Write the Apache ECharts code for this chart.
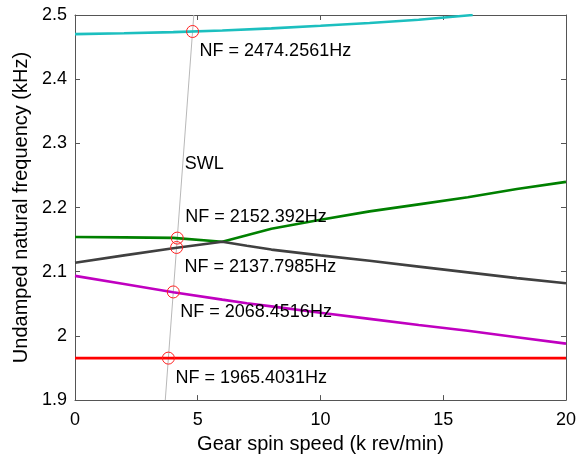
<!DOCTYPE html>
<html>
<head>
<meta charset="utf-8">
<script src="https://cdn.jsdelivr.net/npm/echarts@6/dist/echarts.min.js"></script>
<style>
  html, body { margin: 0; padding: 0; background: #fff; }
  #chartmain { width: 579px; height: 459px; }
</style>
</head>
<body>
<div id="chartmain"></div>
<script>
// speed axis shared by most modes (k rev/min)
var speed = [0, 2, 4, 6, 7, 8, 10, 12, 14, 16, 18, 20];
// natural frequencies (kHz)
var modeRed     = [1.9654, 1.9654, 1.9654, 1.9654, 1.9654, 1.9654, 1.9654, 1.9654, 1.9654, 1.9654, 1.9654, 1.9654];
var modeMagenta = [2.0935, 2.081, 2.068, 2.0565, 2.051, 2.046, 2.036, 2.0265, 2.017, 2.008, 1.998, 1.988];
var modeGray    = [2.114, 2.1255, 2.1365, 2.1468, 2.1405, 2.1345, 2.1255, 2.117, 2.108, 2.099, 2.090, 2.082];
var modeGreen   = [2.154, 2.1535, 2.1527, 2.1468, 2.157, 2.167, 2.181, 2.194, 2.205, 2.216, 2.229, 2.240];
var cyanSpeed   = [0, 2, 4, 6, 8, 10, 12, 14, 16.2];
var modeCyan    = [2.4702, 2.4716, 2.4733, 2.4758, 2.4792, 2.4832, 2.4875, 2.4925, 2.5];
// speed wave line
var swlSpeed = [3.677, 4.39, 4.839];
var swlFreq  = [1.9, 2.268, 2.5];
// intersections
var nfSpeed = [4.789, 4.166, 4.138, 4.0035, 3.804];
var nfFreq  = [2.4743, 2.1524, 2.1378, 2.0685, 1.9654];
var nfText  = ['NF = 2474.2561Hz', 'NF = 2152.392Hz', 'NF = 2137.7985Hz', 'NF = 2068.4516Hz', 'NF = 1965.4031Hz'];

// label offsets (px) from each circle
var nfOffset = [[7, 20], [8, -21], [8, 20], [7, 20], [7, 20]];

function pairs(xs, ys) {
  return xs.map(function (x, i) { return [x, ys[i]]; });
}

var font = 'Arial, "Liberation Sans", sans-serif';
var frame = '#555';
var ink = '#000';

function lineSeries(xs, ys, color) {
  return {
    type: 'line',
    data: pairs(xs, ys),
    showSymbol: false,
    symbol: 'none',
    lineStyle: { color: color, width: 2.6 },
    clip: true,
    silent: true,
    z: 3
  };
}

var nfData = nfSpeed.map(function (x, i) {
  return {
    value: [x, nfFreq[i]],
    label: { offset: nfOffset[i], formatter: nfText[i] }
  };
});

window.onload = function () {
  var option = {
    backgroundColor: '#fff',
    animation: false,
    grid: { left: 75, right: 12, top: 15, bottom: 55, containLabel: false },
    xAxis: [{
      type: 'value', min: 0, max: 20, interval: 5,
      name: 'Gear spin speed (k rev/min)',
      nameLocation: 'middle', nameGap: 32,
      nameTextStyle: { fontFamily: font, fontSize: 20, color: ink },
      axisLine: { lineStyle: { color: frame, width: 1 } },
      axisTick: { inside: true, length: 5, lineStyle: { color: frame } },
      axisLabel: { fontFamily: font, fontSize: 18, color: ink, margin: 11 },
      splitLine: { show: false }
    }, {
      type: 'value', min: 0, max: 20, interval: 5, position: 'top',
      axisLine: { show: true, onZero: false, lineStyle: { color: frame, width: 1 } },
      axisTick: { inside: true, length: 5, lineStyle: { color: frame } },
      axisLabel: { show: false },
      splitLine: { show: false }
    }],
    yAxis: [{
      type: 'value', min: 1.9, max: 2.5, interval: 0.1,
      name: 'Undamped natural frequency (kHz)',
      nameLocation: 'middle', nameGap: 43,
      nameTextStyle: { fontFamily: font, fontSize: 20, color: ink },
      axisLine: { show: true, lineStyle: { color: frame, width: 1 } },
      axisTick: { show: true, inside: true, length: 5, lineStyle: { color: frame } },
      axisLabel: {
        fontFamily: font, fontSize: 18, color: ink, margin: 8,
        formatter: function (v) { return (Math.round(v * 10) / 10).toString(); }
      },
      splitLine: { show: false }
    }, {
      type: 'value', min: 1.9, max: 2.5, interval: 0.1, position: 'right',
      axisLine: { show: true, onZero: false, lineStyle: { color: frame, width: 1 } },
      axisTick: { show: true, inside: true, length: 5, lineStyle: { color: frame } },
      axisLabel: { show: false },
      splitLine: { show: false }
    }],
    series: [
      {
        type: 'line',
        data: pairs(swlSpeed, swlFreq),
        symbol: 'none',
        lineStyle: { color: '#b8b8b8', width: 1 },
        silent: true,
        z: 2,
        markPoint: {
          symbol: 'circle', symbolSize: 1,
          itemStyle: { color: 'rgba(0,0,0,0)' },
          data: [{ coord: [swlSpeed[1], swlFreq[1]] }],
          label: {
            show: true, formatter: 'SWL', position: 'inside',
            align: 'left', verticalAlign: 'middle', offset: [2, 0],
            fontFamily: font, fontSize: 18, color: ink, textBorderWidth: 0
          }
        }
      },
      lineSeries(cyanSpeed, modeCyan, '#1cbfbf'),
      lineSeries(speed, modeGreen, '#008000'),
      lineSeries(speed, modeGray, '#404040'),
      lineSeries(speed, modeMagenta, '#c000c0'),
      lineSeries(speed, modeRed, '#ff0000'),
      {
        type: 'scatter',
        data: nfData,
        symbol: 'circle',
        symbolSize: 12,
        itemStyle: { color: 'rgba(0,0,0,0)', borderColor: '#ff2020', borderWidth: 1, opacity: 1 },
        label: {
          show: true, position: 'inside', align: 'left', verticalAlign: 'middle',
          fontFamily: font, fontSize: 18, color: ink, textBorderWidth: 0, opacity: 1
        },
        silent: true,
        z: 5
      }
    ]
  };

  var myChart = echarts.init(document.getElementById('chartmain'));
  myChart.setOption(option);
};
</script>
</body>
</html>
